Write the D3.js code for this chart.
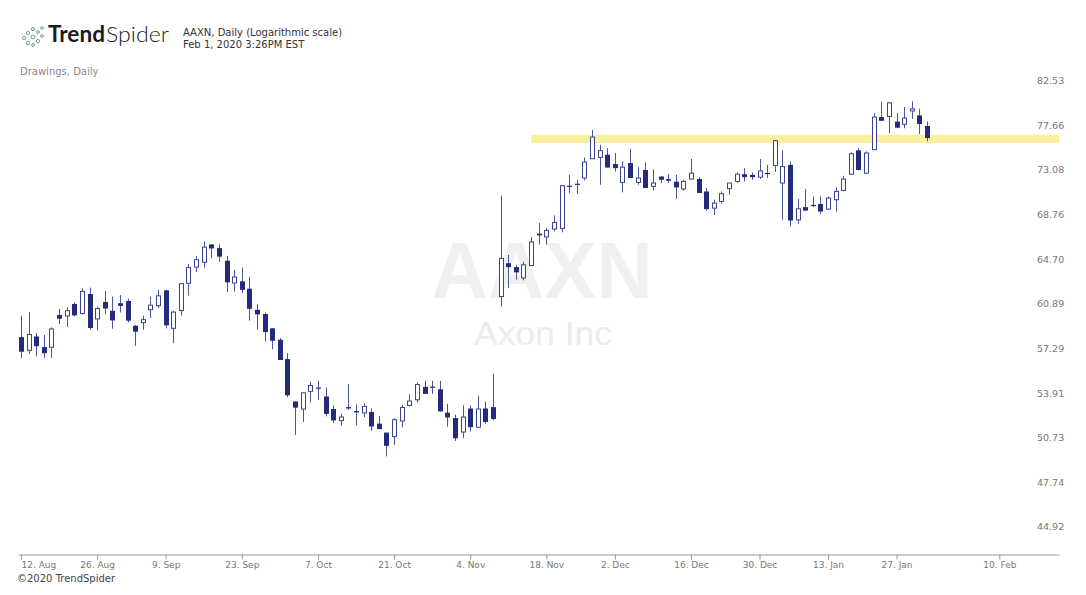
<!DOCTYPE html>
<html><head><meta charset="utf-8">
<script src="https://cdn.jsdelivr.net/npm/d3@7"></script>
<style>body{margin:0;background:#fff} svg{display:block}</style>
</head><body><svg id="c" width="1086" height="595"></svg>
<script>
// Daily candles, 12 Aug 2019 .. 31 Jan 2020 (trading-day index 0..119)
const openP = [58.20,57.16,58.25,57.42,57.40,59.98,59.90,60.89,60.11,61.72,
59.66,61.06,60.33,60.95,61.14,59.11,59.36,60.41,60.75,62.03,
58.90,60.35,62.63,64.03,64.45,66.04,65.71,64.59,62.66,62.80,
62.17,60.41,60.06,58.90,57.99,56.48,53.31,52.76,54.05,54.33,
53.67,52.76,51.93,52.90,52.62,52.48,52.55,51.72,51.09,50.81,
51.91,53.02,53.43,54.38,54.40,54.20,52.50,52.12,51.13,52.80,
51.47,52.80,52.90,61.51,64.37,64.03,63.09,64.17,67.02,66.72,
67.44,67.50,71.55,71.74,72.30,74.23,74.37,74.64,73.69,71.87,
73.79,71.87,73.10,71.48,72.45,72.20,71.94,71.23,72.20,72.20,
70.99,69.39,70.03,71.26,71.97,72.68,72.61,72.39,72.80,73.55,
71.81,73.61,68.29,69.49,69.70,69.78,69.30,70.19,71.09,72.68,
75.08,72.78,75.15,78.57,78.64,78.09,77.80,79.23,78.75,77.62];
const highP = [59.92,60.22,58.52,58.36,58.98,60.49,60.62,61.00,62.20,62.26,
60.67,61.98,61.51,61.63,61.34,59.15,59.92,61.51,62.09,62.09,
60.33,62.60,64.31,65.01,66.32,66.04,66.04,65.01,63.80,63.99,
63.17,60.87,60.19,58.90,58.13,56.94,53.31,53.94,54.76,54.83,
54.33,53.02,52.43,54.58,53.09,53.19,52.80,52.26,51.09,52.12,
53.07,53.83,54.70,54.83,54.83,54.83,53.14,52.36,53.02,53.02,
53.73,53.31,55.37,70.58,65.10,64.23,64.51,66.72,67.99,67.53,
68.71,71.55,72.61,72.13,74.37,77.21,75.66,75.32,74.81,73.96,
75.22,73.38,73.85,73.17,72.45,72.71,72.61,72.13,74.20,72.39,
71.32,70.19,70.99,71.81,72.84,73.28,72.84,74.20,73.61,76.18,
75.08,73.96,70.26,71.23,70.51,70.51,70.51,71.38,72.52,74.88,
75.32,74.98,79.01,80.21,80.21,79.01,79.66,80.27,79.48,78.09];
const lowP = [56.56,56.88,56.68,56.56,56.58,59.25,59.01,59.87,60.00,58.79,
58.73,60.03,58.87,60.19,59.38,57.51,58.79,59.74,60.54,58.90,
57.72,59.95,61.60,63.60,63.99,64.80,64.50,61.89,61.92,61.80,
59.52,58.79,57.85,57.24,56.41,53.62,50.93,51.84,53.24,53.43,
52.24,51.76,51.59,52.71,51.59,52.19,51.21,51.34,49.46,50.25,
51.47,52.95,53.24,53.86,53.86,52.59,51.52,50.51,50.70,51.17,
51.47,51.72,51.95,60.67,62.23,62.94,62.88,64.17,66.02,66.02,
67.23,67.14,70.84,70.74,72.06,74.23,71.64,73.34,72.95,70.90,
72.30,71.64,71.32,71.09,71.81,71.81,70.26,71.06,72.13,70.84,
69.16,68.74,69.81,70.67,71.81,71.97,72.13,72.20,72.30,72.90,
68.29,67.68,67.93,69.16,69.49,68.84,69.23,69.07,70.99,72.61,
73.03,72.71,75.15,78.17,76.87,77.38,77.38,78.36,76.77,76.01];
const closeP = [57.05,58.41,57.48,56.94,58.85,59.68,60.33,59.95,61.94,58.93,
60.51,60.51,59.54,60.73,59.52,58.63,59.60,60.79,61.57,59.14,
60.22,62.60,63.99,64.68,65.80,65.68,64.95,62.71,63.17,62.07,
60.49,60.03,58.60,57.91,56.41,53.76,52.86,53.94,54.48,54.25,
52.41,51.95,52.19,52.80,52.52,52.95,51.52,51.34,50.18,52.00,
52.87,53.34,54.55,53.86,54.36,52.59,52.16,50.70,52.19,51.47,
52.76,51.84,52.05,64.80,64.03,63.57,64.23,66.26,66.86,67.32,
68.04,71.55,71.45,71.64,73.89,76.46,75.05,73.34,73.28,73.38,
72.30,72.30,71.32,71.81,72.13,72.03,71.38,71.97,72.78,70.84,
69.30,69.87,70.77,71.81,72.68,72.39,72.39,73.00,72.75,76.08,
73.44,68.23,69.33,69.16,69.65,69.07,70.35,70.99,72.20,74.74,
73.10,74.81,78.57,78.17,80.10,77.44,78.46,79.45,77.83,76.35];

const yTickValues = [44.92,47.74,50.73,53.91,57.29,60.89,64.70,68.76,73.08,77.66,82.53];
const xTickLabels = ["12. Aug","26. Aug","9. Sep","23. Sep","7. Oct","21. Oct","4. Nov","18. Nov","2. Dec","16. Dec","30. Dec","13. Jan","27. Jan","10. Feb"];
const xTickIndex  = [0,10,19,29,39,49,59,69,78,88,97,106,115,128.5];
const zoneFrom = 67, zoneLow = 75.84, zoneHigh = 76.70;

const svg = d3.select("#c");
svg.append("rect").attr("width",1086).attr("height",595).attr("fill","#fff");

const x = d3.scaleLinear().domain([0,119]).range([21,927]);
const y = d3.scaleLog().domain([44.92,82.53]).range([527,81]);
const xa = x.copy().domain([x.invert(18), x.invert(1059)]).range([18,1059]);

const FONT = "'DejaVu Sans', Verdana, sans-serif";

// header
const logo = svg.append("g");
const dots = [[24,38,1.6],[28,33,1.6],[28,43,1.6],[33,29,1.6],[33,37,1.9],[33,45,1.4],[38,32,1.4],[38,41,1.6],[42,36,1.3],[42,28,1.3]];
logo.selectAll("circle").data(dots).join("circle")
  .attr("cx",d=>d[0]).attr("cy",d=>d[1]).attr("r",d=>d[2])
  .attr("fill","none").attr("stroke","#6f9d8b").attr("stroke-width",1);
svg.append("text").attr("x",48).attr("y",42).attr("font-family","Lato, 'Open Sans', sans-serif")
  .attr("font-size",22).attr("font-weight","bold").attr("fill","#1b1b1b")
  .attr("textLength",57).attr("lengthAdjust","spacingAndGlyphs").text("Trend");
svg.append("text").attr("x",106).attr("y",42).attr("font-family","Lato, 'Open Sans', sans-serif")
  .attr("font-size",22).attr("font-weight",300).attr("fill","#222")
  .attr("textLength",63).attr("lengthAdjust","spacingAndGlyphs").text("Spider");

svg.append("text").attr("x",183).attr("y",36).attr("font-family",FONT).attr("font-size",10).attr("fill","#333").text("AAXN, Daily (Logarithmic scale)");
svg.append("text").attr("x",183).attr("y",48).attr("font-family",FONT).attr("font-size",10).attr("fill","#333").text("Feb 1, 2020 3:26PM EST");
svg.append("text").attr("x",20).attr("y",75).attr("font-family",FONT).attr("font-size",10).attr("fill","#888").text("Drawings, Daily");
svg.append("text").attr("x",17).attr("y",582).attr("font-family",FONT).attr("font-size",10).attr("fill","#444").text("\u00a92020 TrendSpider");

// watermark
svg.append("text").attr("x",542).attr("y",298).attr("text-anchor","middle")
  .attr("font-family","'Liberation Sans', Arial, sans-serif").attr("font-weight","bold").attr("font-size",80)
  .attr("fill","#f0f0f0").attr("textLength",221).attr("lengthAdjust","spacingAndGlyphs").text("AAXN");
svg.append("text").attr("x",543).attr("y",345).attr("text-anchor","middle")
  .attr("font-family","'Liberation Sans', Arial, sans-serif").attr("font-size",33)
  .attr("fill","#ececec").attr("textLength",138).attr("lengthAdjust","spacingAndGlyphs").text("Axon Inc");

// zone
svg.append("rect").attr("x",x(zoneFrom)).attr("y",y(zoneHigh))
  .attr("width",1059-x(zoneFrom)).attr("height",y(zoneLow)-y(zoneHigh))
  .attr("fill","#fcef9f");

// candles
const data = openP.map((o,i)=>({i,o,h:highP[i],l:lowP[i],c:closeP[i],up:closeP[i]>=o}));
const g = svg.append("g");
const col = "#232c7c";
g.selectAll("line.w").data(data).join("line").attr("class","w")
  .attr("x1",d=>Math.round(x(d.i))+0.5).attr("x2",d=>Math.round(x(d.i))+0.5)
  .attr("y1",d=>y(d.h)).attr("y2",d=>y(d.l))
  .attr("stroke","#4d559b").attr("stroke-width",1);
g.selectAll("rect.b").data(data).join("rect").attr("class","b")
  .attr("x",d=>d.up ? Math.round(x(d.i))-1.5 : Math.round(x(d.i))-2)
  .attr("y",d=>y(Math.max(d.o,d.c)))
  .attr("width",d=>d.up?4:5)
  .attr("height",d=>Math.max(1.2,y(Math.min(d.o,d.c))-y(Math.max(d.o,d.c))))
  .attr("fill",d=>d.up?"#fff":col)
  .attr("stroke",d=>d.up?"#3a4390":"none")
  .attr("stroke-width",1);

// y labels
svg.append("g").selectAll("text").data(yTickValues).join("text")
  .attr("x",1037).attr("y",d=>y(d)).attr("dy","0.35em")
  .attr("font-family",FONT).attr("font-size",9.5).attr("fill","#777")
  .text(d=>d.toFixed(2));

// x axis
const ax = svg.append("g").attr("transform","translate(0,554.5)")
  .call(d3.axisBottom(xa).tickValues(xTickIndex).tickSize(5).tickSizeOuter(0)
    .tickFormat((d,k)=>xTickLabels[k]));
ax.select(".domain").attr("stroke","#999");
ax.selectAll(".tick line").attr("stroke","#999");
ax.selectAll(".tick text").attr("font-family",FONT).attr("font-size",9).attr("fill","#777").attr("dy","0.6em");
ax.selectAll(".tick text").filter((d,k)=>k===0).attr("text-anchor","start");
</script></body></html>
